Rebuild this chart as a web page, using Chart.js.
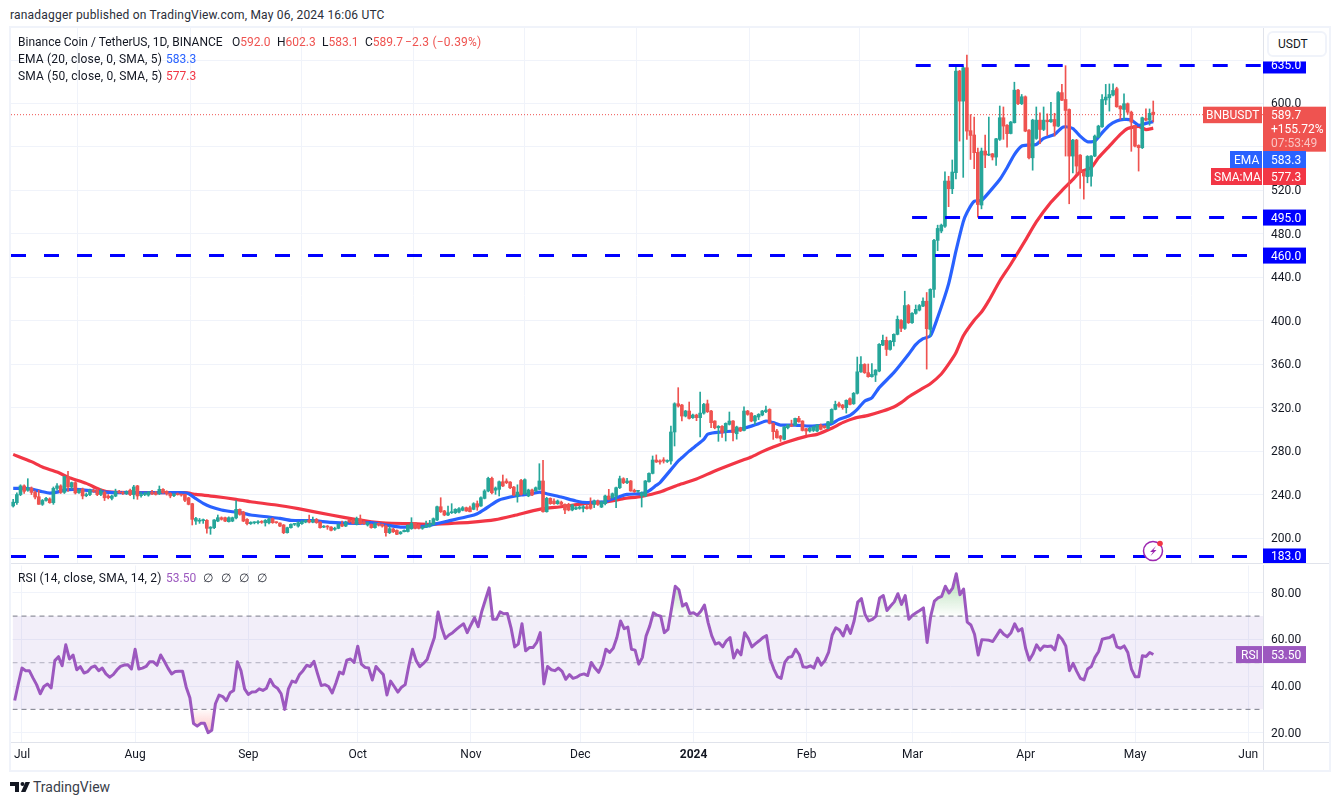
<!DOCTYPE html>
<html>
<head>
<meta charset="utf-8">
<title>BNBUSDT</title>
<script src="https://cdn.jsdelivr.net/npm/chart.js@4"></script>
<style>
  html, body { margin: 0; padding: 0; background: #fff; }
  body { width: 1341px; height: 805px; position: relative; overflow: hidden; font: 12px Roboto, sans-serif; color: #131722; }
  .abs { position: absolute; white-space: nowrap; }
  .line { position: absolute; background: #e0e3eb; }
  canvas { position: absolute; display: block; }
  .red { color: #f23645; }
  .redc { color: #ef5350; }
  .blue { color: #2962ff; }
  .purple { color: #9c58bf; }
</style>
</head>
<body>
<div class="abs" style="left:10px;top:7px;line-height:16px;color:#2a2e39;letter-spacing:0.2px">ranadagger published on TradingView.com, May 06, 2024 16:06 UTC</div>
<div class="abs" style="left:9px;top:26px;width:1318px;height:742px;border:2px solid #f0f3fa"></div>

<canvas id="priceChart" width="1318" height="535" style="left:11px;top:28px"></canvas>
<canvas id="rsiChart" width="1318" height="206" style="left:11px;top:564px"></canvas>

<div class="line" style="left:11px;top:563px;width:1318px;height:1px"></div>
<div class="line" style="left:11px;top:742px;width:1318px;height:1px"></div>
<div class="line" style="left:1263px;top:742px;width:1px;height:28px"></div>

<div class="abs" style="left:18px;top:34px;line-height:16px">Binance Coin / TetherUS, 1D, BINANCE</div>
<div class="abs" style="left:232px;top:34px;line-height:16px">O<span class="redc">592.0</span></div>
<div class="abs" style="left:277px;top:34px;line-height:16px">H<span class="redc">602.3</span></div>
<div class="abs" style="left:322px;top:34px;line-height:16px">L<span class="redc">583.1</span></div>
<div class="abs" style="left:365px;top:34px;line-height:16px">C<span class="redc">589.7</span></div>
<div class="abs redc" style="left:405px;top:34px;line-height:16px;letter-spacing:0.2px">−2.3 (−0.39%)</div>
<div class="abs" style="left:18px;top:51px;line-height:16px;letter-spacing:0.2px">EMA (20, close, 0, SMA, 5)</div>
<div class="abs blue" style="left:166px;top:51px;line-height:16px">583.3</div>
<div class="abs" style="left:18px;top:68px;line-height:16px;letter-spacing:0.2px">SMA (50, close, 0, SMA, 5)</div>
<div class="abs red" style="left:166px;top:68px;line-height:16px">577.3</div>
<div class="abs" style="left:18px;top:570px;line-height:16px;letter-spacing:0.2px">RSI (14, close, SMA, 14, 2)</div>
<div class="abs purple" style="left:166px;top:570px;line-height:16px">53.50</div>
<div class="abs" style="left:203px;top:570px;line-height:16px;word-spacing:5px;color:#2a2e39">∅ ∅ ∅ ∅</div>

<div class="abs" style="left:1267px;top:31px;width:47px;height:22px;border:2px solid #f0f3fa;border-radius:6px;padding-left:9px;line-height:22px;background:#fff">USDT</div>

<svg class="abs" style="left:1141px;top:538px" width="28" height="26" viewBox="0 0 28 26">
  <circle cx="12" cy="13" r="9.5" fill="#fff" stroke="#9c27b0" stroke-width="1.5"/>
  <path d="M15 8 L9 14 L12 14 L9.5 18 L15.5 12 L12.5 12 Z" fill="#9c27b0"/>
  <circle cx="19" cy="5.5" r="2.8" fill="#f23645"/>
</svg>

<svg class="abs" style="left:10px;top:781px" width="20" height="12" viewBox="0 0 20 12">
  <path d="M0 1 H9 V11 H5 V5 H0 Z" fill="#131722"/>
  <circle cx="12.5" cy="3" r="2" fill="#131722"/>
  <path d="M15.5 1 H20 L15.5 11 H11 Z" fill="#131722"/>
</svg>
<div class="abs" style="left:33px;top:778px;font-size:14px;line-height:18px;color:#3a3e4a">TradingView</div>

<script>
// day numbers count from 1 Jul 2023 = 0, first candle is 29 Jun
const firstDay = -2;

const opens = [229.5,232.5,
  240,248,244,246,242,238,231,234.6,236,232.5,245.7,248,242,256.5,247,251,241.7,245,239,240,244,244,240,242,238.6,236.5,238.6,242.6,242,241,244,
  240,248,239,240,239.5,242,241.7,240.8,244.8,243,241,239,240.5,240,240.2,237,231.6,215.6,215.5,216,216.3,208.9,209.5,215.6,218.7,218.7,215,215.6,218.5,226.4,223.9,
  217.2,213.2,214,214.1,215,214,214,217.8,214.7,213.8,212,204.9,209.5,212.6,211,213.2,214.7,216.3,214.7,217.2,214.7,210,211,210.1,208,208.9,212.6,211,216.3,216.3,
  212.6,217.5,214.7,212,212.6,209.5,213.5,212.6,211,204.9,208.3,207,204,205.8,206,208.6,214.1,212,208.9,210,210.7,212.6,216.6,228.8,224.9,221.2,223.3,223.3,223.9,225.5,227.9,
  227.9,226.4,231.6,229.5,236.5,243.3,254.9,244,244.8,251.8,252.5,251.5,246.9,238.7,253,240.8,238.7,244.2,243.3,244.8,252.5,224.2,236.5,234,231.6,233,231,231,225.8,226.7,
  227.3,227.3,228.8,231,231,234.1,228.5,231.6,238.7,237.1,238.7,246.3,254.6,250.9,252.5,243.9,243,238.7,238.7,251.8,259.5,271.8,271,272,270.5,270.9,297.6,323.6,322.4,312.3,316.9,
  310.8,313.2,310.8,315,323.6,316.9,307.7,301.5,302.8,298.5,304.6,307.7,296,301.5,299,316.9,315,307.7,311.4,313.2,316.3,318.4,305.5,298.5,293.9,290.8,301.5,304,304,310.1,307.7,
  300.6,298.5,299,298.5,304,303,301,306,318.4,323.6,322.4,320,328.2,323.6,333.2,353,359.8,352.2,348.5,350,353.7,377.6,382,373.6,380.7,387.5,400.3,393,414,
  398.2,406.8,409.8,413.5,418,392,428.9,474,482.6,487,528.6,521.5,536.3,629.8,602.2,632.9,575,571,555,506.5,556.2,552.5,553.7,550.7,567,586.9,580,572.4,582.3,612.3,599.8,
  606.2,575.5,550,567.8,584.7,576.1,584.7,583.2,585.3,579.2,610,603.7,594.5,551.6,566.3,552.5,537.2,532.6,533,551.6,569,578.6,603.2,605.3,607.8,613.6,597.6,594.5,599.8,592,
  579.8,561.4,559.3,586.3,584.7,592];

const highs = [235.6,241.5,
  249,249,254.6,247,243.5,244,235.5,237.5,237,247,250,249,257,261.5,251.5,252,245,246,241.5,245,245.5,245,245,243,240,239.5,245,244,243,243.5,245,
  248.5,248.5,242,242,243,244,243,247.9,245.5,243.5,241.7,241,241.5,240.5,240.5,237.5,232,219,218,217.5,217,210.5,217,221.2,219.5,219.3,219.5,219.3,234.5,226.8,224.5,
  218,215,215,216,216,217,218.5,218.5,215,214,212.5,210,213,213.5,215,216,217,221.2,219.3,218,215,211.5,211.5,210.5,210,213,215.6,215.5,217,217,
  219.3,221.2,215.5,214.7,213,214,214,213,212,211,209,207.5,206,207.5,212.2,218.7,214.5,212.5,211,215.6,216.3,218.5,229.5,237.1,225.5,229.5,231.6,227,228,229,228.5,
  229.5,232.5,234.1,238,244.5,256,256,247,252.5,258,254.5,252,247.5,249,254,254.5,245,245,247,268.4,271.5,237.5,237,236,235,234,231.5,232,231,229,
  229.5,230,230.5,237,235,235,234,239.5,244.8,241.5,247,257,255.5,255,253,245,244,242.5,253,260,275.5,276.5,272,274,272,303.1,324.5,338.4,323,317.5,325.2,
  314,314,334.4,324,327,317.5,308,303.5,303.5,306,316,308,303,302,320.8,317.5,315.5,313,314.5,317.5,321.5,319,306,300,294.5,302.8,304.5,308.5,310.5,312,308,
  301,302,303,304.5,305,303.5,307.5,319,326,325.2,323,327.2,329,334,366.6,367,360.5,360.2,360.5,355,379,386.8,385,382,388,404.4,401,427.2,415,
  407.5,414.5,415,421,426,429.5,475,488,489,537,533,548,634.4,630.5,634,644.5,589.8,587.5,559,559,571,587.5,554,568,597.7,596.8,580.5,583.5,619.6,613,608.3,
  607,576,585.5,596.8,591.5,596.8,590.5,601,591,611,617.6,634.8,595,567,567,553,537.5,552,552,571,580,608.3,617.6,618,618,615,598,609,600.5,593,
  580,562,587.5,595,595,602.3];

const lows = [228.5,231,
  239,241,243,240,236,231,230,234,232,231,244,241,241,243,245,240.5,241,236,238,239,242,239,239,234.5,236,235,238,241,240,240,239,
  236,235.6,237.5,239,238.5,240,239.5,240,241,239.5,237,238,239.5,238.5,233.5,230.5,212,212.6,213.5,213.5,204.5,203.4,208.5,215,216.5,215,214.7,215,217.5,221,215,
  212,212.5,213,213,213.5,211,213,213.5,213.5,210.5,204,204.5,209,211.5,210,212.5,214,214,214,213.5,209,209.5,208,206.5,207,208.5,210.5,210.5,214,213,
  212,212.5,212.5,211,209,209,211,210,201.8,204,205,203,203.4,205.5,205.5,208,208.3,208.3,208,209.5,210,212,216,223.5,220.5,220.5,222.5,222.5,223,225,224.5,
  224,226,225.5,229,236,242.5,240.5,240.2,238.7,247.3,250,245.5,239,233,239.5,240,238,239,243,244.5,223.8,223.8,231,231,231,229.5,222.4,225,225,226,
  226.5,224,226.5,226.5,228,230,228,230.5,235,236.5,228,245.5,250,250,243,242,242,228.5,238,251.5,259,269.5,268,269,269.5,268,284.7,320.5,307.7,311.5,309.5,
  310,308,293,314,315.5,301.5,300.5,289,292.5,289.3,304,289.3,291,298,298.5,313,307,304.6,309,312.5,315.5,305,290.8,292,288.9,290.3,300.5,302.5,303.5,306.5,298.5,
  295,297.5,298,298,299.5,301,300.5,305.5,318,320.5,318.5,315,322.5,323,332.5,352.5,351.5,348,348,344,353,377,368,373,376.8,387,390,392,397.5,
  397.5,406,409,413,355.5,386,421.5,464.5,481,486,505,517,530.5,565.4,532,567,548.5,540,495.4,503,541,552,548,543,566,567,559.7,572,582,599,599,
  574,549,538.6,567,563,575,570.5,582.5,570,578.5,602.5,551.6,507.7,536,535,521.9,512,527,524,551,568.5,578,599,593,607,596.5,585.3,585,590,556,
  560,537.8,558.5,584,580,583.1];

const closes = [233,240,
  248,243,246,242,237.7,231,234.6,236.5,232.5,245.7,248,242,256.5,247,251,241.5,244,238.7,240,244,243,240,243,237,237.1,238.6,242.6,241.7,241,242.5,240,
  247,238.7,240,241,242,241,240.2,244.8,241.7,240.8,238.7,240.5,240,239.5,234.7,231,217.2,218,216.3,216.5,208.9,210,216.6,218.7,217.2,215.6,218.7,218.7,226.4,221.8,215.6,
  213.2,214.4,214.2,215,214.4,216.3,217.5,214.1,214.1,211,204.9,209.5,212.6,212.9,214.1,215,216.3,214.7,216.3,214.1,209.5,210.5,210.1,207.1,208.9,212.6,211,214.7,215,213.5,
  218,213.2,213.2,214.1,209.5,213.2,212,211,204.9,208.6,205.8,203.4,205.5,207,211.7,213.5,208.9,208.9,210,211.7,213.2,217.8,228.8,224.2,221.2,223.3,224.2,226.4,227,227.9,224.9,
  224.2,231.6,228.5,237.1,243.3,254.9,241.7,246,251.8,247.9,250.9,246.3,239.6,242.3,240.2,253.7,244.2,239.6,246.3,252.5,224.2,236.5,231.6,231.6,234.1,231,225.8,225.8,230.4,227.9,
  228.5,228.8,227,227.3,234.1,231,233,238.7,235.6,240.8,246.3,254.6,250.9,252.5,243.3,242.6,243.3,241.7,252.5,259.5,271.8,270,270,270.8,271,297.6,323.6,321.5,312.3,316.9,310.1,
  313.2,310.8,315,323,316.3,306.2,301.5,302.8,297,305.5,307.7,297,302.2,298.5,316.9,313.8,307.7,312.3,313.8,316.9,317.8,305.5,297.9,292.3,291.7,302.2,304,303,310.1,307,299,
  298.5,301,302.2,304,300,301.5,307,318.4,323,321.5,320,326.7,323,333.2,353,359.8,352.2,348.5,350.6,354.6,378.3,382,373.6,381.3,387.5,401.3,393,414,398.2,
  406.8,410.5,414,418,392.7,428.9,474,485,488,528.6,521.5,536.9,629.8,602.2,632.9,574.6,570.6,554.7,507,556.2,552.5,553.4,550.7,567.5,586.9,579.2,572.2,582.9,612.3,599.8,606.2,
  574.6,550,584.7,584.7,576.1,584.7,583.2,585.3,579.2,610,603,593.6,551.6,566.3,542.4,537.2,533.2,551.3,551.6,570,579.2,603.7,605.9,608.3,612,597,595,599.8,592,582.9,
  560.8,559.3,586.9,584.7,590.9,589.7];

const emaDays = [-2,1,3,6,8,10,12,15,20,23,28,40,44,46,48,50,52,55,58,60,63,68,71,74,80,85,92,96,100,104,107,111,113,117,123,125,127,129,131,134,137,140,142,144,148,152,155,157,160,161,163,166,170,172,174,175,
  180,181,183,185,187,188,190,195,198,200,202,204,206,208,212,216,220,222,224,227,229,231,233,235,239,243,245,247,249,251,254,256,258,259,261,263,265,
  268,270,272,274,276,278,280,283,285,286,288,290,292,294,296,298,300,302,304,306,308,310];
const emaValues = [245.7,245.7,245,242.6,241.4,242.3,244.2,244.8,243.3,242.3,241.7,241.7,241.7,240.8,236.2,231.9,228.8,225.8,224.2,223.6,221.2,219.3,218.1,216.3,216,214.4,213.5,214.1,212,210.1,210.4,211,212.6,215.6,220.2,222.4,226.4,231,235,237.7,239.6,240.8,242.3,240.8,237.7,234.1,232.5,233.1,233.1,234.7,237.1,240.2,240.8,243.3,248.5,250.9,
  270.9,273.9,280,285.3,290.8,295.4,297,298.5,301,303,305.2,307.7,306.2,304,304,303,304,305.2,309.2,312.9,318.4,326,329,338.4,352.2,369,378,383.5,386,403,434,464,491,499.5,510,510.8,518,
  530,540.9,553,560.8,561.7,562.3,567.9,571.5,577.7,578.6,577,570,564.8,565.4,573,580,583.8,585.3,584.7,580,581.7,583.3];

const smaDays = [-2,3,6,10,13,18,22,25,40,45,48,53,59,63,70,76,85,92,96,100,107,112,118,123,130,135,142,148,155,160,165,170,175,
  180,185,190,197,200,203,206,210,215,218,222,225,228,232,236,239,241,243,246,249,252,254,256,258,261,263,265,268,271,275,278,282,
  285,288,290,293,295,298,301,303,306,308,310];
const smaValues = [277,270.3,265.3,260.7,256,250.3,244.2,242.3,241.7,241.7,240.2,238.4,235.6,233.4,230.4,227,221.2,216.9,215,213.8,213.2,212.6,213.5,214.4,216.9,220.6,226.4,228.8,231.9,233.1,236.2,238.4,242.3,
  248.8,254.3,261.7,270.9,274.6,279.5,283.8,288.7,293.6,295.4,301,306.2,310.1,312.9,316.9,320.6,324.6,329.8,336,342,351,360,370.5,386,400.5,408,418.5,436.6,452,474,491,509,
  519.8,530,537,540.9,550,560.8,571.5,577,578.9,576,577.3];

const rsiValues = [33.8,41,
  47.7,46.6,46.6,43.5,40.6,36.7,39.8,40.9,39.2,50.9,52.6,48.7,57.7,51.6,53.3,47,48.3,45.6,46.2,48,48.6,46.6,47.7,45.2,43.8,44.9,46.9,48.4,49,49.1,47.3,
  55.8,47.3,47.7,48.4,50.4,50.4,48.9,53.3,50.6,47.7,45.2,46.2,46.3,46.3,39.5,35,23.9,22.8,24,24,20,21,32.4,36.1,35.5,33.7,37.1,38.1,50.4,46.6,38.8,
  36.4,37.4,37.5,38.8,38.1,39.1,42.9,40.1,39.1,36.7,30,38.8,42.1,41.6,44.8,46.6,48.9,48.4,50.6,45.2,40.2,40.6,39.8,37,41.2,46,45.2,51.1,51.6,50.1,
  57.1,49.4,48,47.7,42.6,48.4,46.6,44.9,36.2,42.1,39.8,37.4,39.5,40.6,48.7,55.8,50.9,48.3,49.7,51.4,56.2,60.8,71.8,65,60.4,61.9,62.9,64.3,65.6,66.7,62.9,
  66.2,69.3,65.5,72.1,77.1,82.1,68.6,68.6,71.8,71,71.1,65,56.8,58,66.7,55.1,56.5,56.5,58.6,62.9,40.9,48.4,47,46.6,47.7,46.3,42.9,44.9,43.3,43.8,
  44.8,45.2,44.5,50.1,47.7,45.9,49.4,55.8,54.4,56.2,60.8,67.9,64.6,65.3,55.8,55.4,49.4,52.3,61.5,65.7,71.4,70.4,70,62.9,64.3,73.5,82.8,81.3,74.3,75.4,71.1,
  71.4,70.4,72.1,74.7,67.2,61.5,58,58.6,56.8,59.4,60.8,52,55.4,53.4,62.9,60.5,56.8,58.2,59.4,60.8,61.6,51.6,47.3,44,43.3,50.1,52.3,52.7,55.8,53.4,48.3,
  48,48.7,47.7,52,49,50.9,54.4,61.9,65,64,61.5,66,62.6,67.9,76,77.5,70.7,67.9,68.6,70,77.8,78.8,72.4,74.3,76.1,79.6,75,78.8,68.6,
  70.4,71.4,72.4,73.5,58.7,70,76.4,77.8,78.5,82.8,79.9,82,88.2,79.2,81.6,67.4,66.2,62.2,53.3,59.9,59.8,59.6,59.1,61.5,64,62.2,61.1,62.9,66.7,63.6,64.6,
  56.2,51.1,53.7,57.7,55.4,57.2,57,57.2,55.5,61.8,60.1,57.2,46.6,49.7,46.3,43.3,42.6,47.3,48.4,52.3,54.8,60.1,60.5,60.8,61.9,56.8,56.2,57.2,54.4,47.3,
  44,44,53,52.7,54.4,53.5];

const monthDays = [0,31,62,92,123,153,184,215,244,275,305,336];
const monthLabels = ['Jul','Aug','Sep','Oct','Nov','Dec','2024','Feb','Mar','Apr','May','Jun'];
const priceTicks = [200,240,280,320,360,400,440,480,520,560,600,640];
const hiddenPriceTicks = [560,640];
const rsiTicks = [20,40,60,80];
const levelValues = [635,495,460,183];
const levelStarts = [245,244,-2.6,-2.6];

const xMin = -2.6, xMax = 340.04;
const lastClose = 589.7, lastEma = 583.3, lastSma = 577.3, lastRsi = 53.5;

const UP = '#26a69a', DOWN = '#ef5350', EMA = '#2962ff', SMA = '#f23645', LEVEL = '#0000ff', RSI = '#9c58bf';
const GRID = '#f0f3fa', AXIS = '#e0e3eb';
const FONT = 'Roboto, sans-serif';

const days = closes.map((c, i) => i + firstDay);
const candleColor = ctx => closes[ctx.dataIndex] >= opens[ctx.dataIndex] ? UP : DOWN;

function monthTicksOnly(scale) { scale.ticks = monthDays.map(v => ({ value: v })); }
function fitY(scale) { scale.width = 66; scale.paddingTop = 0; scale.paddingBottom = 0; }

function tag(ctx, x, y, w, h, bg, text, textX, textY) {
  ctx.fillStyle = bg;
  ctx.fillRect(x, y, w, h);
  ctx.fillStyle = '#fff';
  ctx.font = '12px ' + FONT;
  ctx.textAlign = 'left';
  ctx.textBaseline = 'middle';
  ctx.fillText(text, textX === undefined ? x + 8 : textX, textY === undefined ? y + h / 2 + 1 : textY);
}

const priceTags = {
  id: 'priceTags',
  afterDraw(chart) {
    const ctx = chart.ctx, y = chart.scales.y, r = chart.chartArea.right;
    levelValues.forEach(v => {
      const py = y.getPixelForValue(v);
      // the 635 tag is cut short at the top in the original
      const above = v === 635 ? 4 : 8;
      tag(ctx, r, py - above, 43, above + 8, LEVEL, v.toFixed(1), r + 8, py + 1);
    });
    const top = y.getPixelForValue(lastClose) - 8;
    tag(ctx, r - 60, top, 59, 16.5, DOWN, 'BNBUSDT', r - 57);
    ctx.fillStyle = DOWN;
    ctx.fillRect(r, top, 63, 45);
    ctx.fillStyle = '#fff';
    ctx.font = '12px ' + FONT;
    ctx.fillText('589.7', r + 8, top + 9);
    ctx.fillText('+155.72%', r + 8, top + 23);
    ctx.fillStyle = 'rgba(255,255,255,0.65)';
    ctx.fillText('07:53:49', r + 8, top + 37);
    tag(ctx, r - 33, 123, 32, 17, EMA, 'EMA', r - 29);
    tag(ctx, r, 123, 43, 17, EMA, lastEma.toFixed(1));
    tag(ctx, r - 52, 140, 51, 17, SMA, 'SMA:MA', r - 49);
    tag(ctx, r, 140, 43, 17, SMA, lastSma.toFixed(1));
  }
};

const rsiTags = {
  id: 'rsiTags',
  afterDraw(chart) {
    const ctx = chart.ctx, y = chart.scales.y, r = chart.chartArea.right;
    const top = y.getPixelForValue(lastRsi) - 8.5;
    tag(ctx, r - 27, top, 26, 17, RSI, 'RSI', r - 22);
    tag(ctx, r, top, 43, 17, RSI, lastRsi.toFixed(2));
  }
};

new Chart(document.getElementById('priceChart'), {
  type: 'bar',
  data: {
    datasets: [
      { label: 'wick', order: 2, data: days.map((d, i) => ({ x: d, y: [lows[i], highs[i]] })), barThickness: 1, grouped: false,
        backgroundColor: candleColor, borderWidth: 0 },
      { label: 'body', order: 1, data: days.map((d, i) => ({ x: d, y: [opens[i], closes[i]] })), barThickness: 3, grouped: false, minBarLength: 1,
        backgroundColor: candleColor, borderWidth: 0 },
      { type: 'line', label: 'EMA', order: 3, data: emaDays.map((d, i) => ({ x: d, y: emaValues[i] })), borderColor: EMA, borderWidth: 3.2, pointRadius: 0, tension: 0.2 },
      { type: 'line', label: 'SMA', order: 4, data: smaDays.map((d, i) => ({ x: d, y: smaValues[i] })), borderColor: SMA, borderWidth: 3.2, pointRadius: 0, tension: 0.2 },
      { type: 'line', label: 'last', order: 5, data: [{ x: xMin, y: lastClose }, { x: xMax, y: lastClose }], borderColor: DOWN, borderWidth: 1, borderDash: [1, 2], pointRadius: 0 }
    ].concat(levelValues.map((v, i) => ({
      type: 'line', label: 'level ' + v, order: 0, data: [{ x: levelStarts[i], y: v }, { x: xMax, y: v }],
      borderColor: LEVEL, borderWidth: 3, borderDash: [15, 18], pointRadius: 0
    })))
  },
  options: {
    responsive: false,
    animation: false,
    layout: { padding: 0 },
    plugins: { legend: { display: false }, tooltip: { enabled: false } },
    scales: {
      x: {
        type: 'linear', min: xMin, max: xMax, offset: false,
        afterBuildTicks: monthTicksOnly,
        afterFit: s => { s.height = 0; s.paddingLeft = 0; s.paddingRight = 0; },
        ticks: { display: false },
        grid: { color: GRID, drawTicks: false },
        border: { display: false }
      },
      y: {
        position: 'right', min: 177, max: 669.5,
        afterBuildTicks: s => { s.ticks = priceTicks.map(v => ({ value: v })); },
        afterFit: fitY,
        ticks: {
          padding: 8, labelOffset: 1, color: '#131722', font: { family: FONT, size: 12 },
          callback: v => hiddenPriceTicks.includes(v) ? '' : v.toFixed(1)
        },
        grid: { color: GRID, drawTicks: false },
        border: { color: AXIS }
      }
    }
  },
  plugins: [priceTags]
});

const rsiChart = new Chart(document.getElementById('rsiChart'), {
  type: 'line',
  data: {
    datasets: [
      { label: 'RSI', order: 0, data: days.map((d, i) => ({ x: d, y: rsiValues[i] })), borderColor: RSI, borderWidth: 3, pointRadius: 0, tension: 0, borderJoinStyle: 'round' },
      { label: 'over', order: 1, data: days.map((d, i) => ({ x: d, y: rsiValues[i] })), borderWidth: 0, pointRadius: 0, fill: { target: { value: 70 }, above: 'rgba(0,0,0,0)', below: 'rgba(0,0,0,0)' } },
      { label: 'under', order: 1, data: days.map((d, i) => ({ x: d, y: rsiValues[i] })), borderWidth: 0, pointRadius: 0, fill: { target: { value: 30 }, above: 'rgba(0,0,0,0)', below: 'rgba(0,0,0,0)' } },
      { label: 'upper', order: 2, data: [{ x: xMin, y: 70 }, { x: xMax, y: 70 }], borderColor: '#787b86', borderWidth: 1, borderDash: [5, 4], pointRadius: 0, fill: { target: { value: 30 } }, backgroundColor: 'rgba(126,87,194,0.1)' },
      { label: 'middle', order: 2, data: [{ x: xMin, y: 50 }, { x: xMax, y: 50 }], borderColor: 'rgba(120,123,134,0.55)', borderWidth: 1, borderDash: [5, 4], pointRadius: 0 },
      { label: 'lower', order: 2, data: [{ x: xMin, y: 30 }, { x: xMax, y: 30 }], borderColor: '#787b86', borderWidth: 1, borderDash: [5, 4], pointRadius: 0 }
    ]
  },
  options: {
    responsive: false,
    animation: false,
    layout: { padding: 0 },
    plugins: { legend: { display: false }, tooltip: { enabled: false } },
    scales: {
      x: {
        type: 'linear', min: xMin, max: xMax, offset: false,
        afterBuildTicks: monthTicksOnly,
        afterFit: s => { s.height = 28; s.paddingLeft = 0; s.paddingRight = 0; },
        ticks: {
          autoSkip: false, maxRotation: 0, padding: 6, color: '#131722',
          font: ctx => ({ family: FONT, size: 12, weight: monthLabels[ctx.index] === '2024' ? 'bold' : 'normal' }),
          callback: (v, i) => monthLabels[i]
        },
        grid: { color: GRID, drawTicks: false },
        border: { display: false }
      },
      y: {
        position: 'right', min: 16, max: 91.7,
        afterBuildTicks: s => { s.ticks = rsiTicks.map(v => ({ value: v })); },
        afterFit: fitY,
        ticks: { padding: 8, labelOffset: 1, color: '#131722', font: { family: FONT, size: 12 }, callback: v => v.toFixed(2) },
        grid: { color: GRID, drawTicks: false },
        border: { color: AXIS }
      }
    }
  },
  plugins: [rsiTags]
});

// green above 70 and red below 30 fade out towards the band
const rsiY = rsiChart.scales.y, rsiCtx = rsiChart.ctx;
const overGrad = rsiCtx.createLinearGradient(0, rsiY.getPixelForValue(88), 0, rsiY.getPixelForValue(70));
overGrad.addColorStop(0, 'rgba(76,175,80,0.45)');
overGrad.addColorStop(1, 'rgba(76,175,80,0.02)');
const underGrad = rsiCtx.createLinearGradient(0, rsiY.getPixelForValue(30), 0, rsiY.getPixelForValue(20));
underGrad.addColorStop(0, 'rgba(255,82,82,0.02)');
underGrad.addColorStop(1, 'rgba(255,82,82,0.35)');
rsiChart.data.datasets[1].fill.above = overGrad;
rsiChart.data.datasets[2].fill.below = underGrad;
rsiChart.update('none');
</script>
</body>
</html>
